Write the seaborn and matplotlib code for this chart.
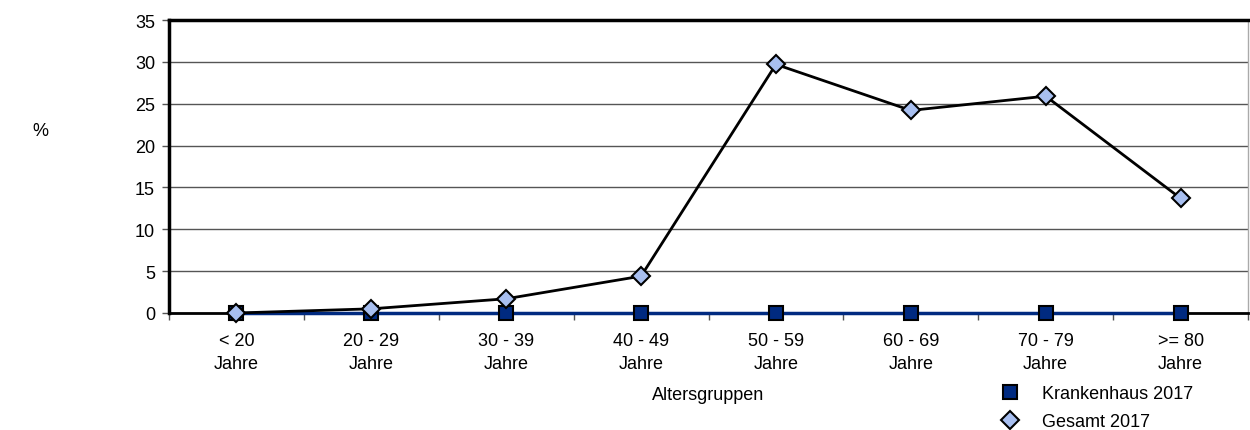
import matplotlib
matplotlib.use("Agg")
import matplotlib.pyplot as plt
from matplotlib.lines import Line2D
import seaborn as sns
import pandas as pd
import numpy as np

categories = ["< 20\nJahre", "20 - 29\nJahre", "30 - 39\nJahre", "40 - 49\nJahre",
              "50 - 59\nJahre", "60 - 69\nJahre", "70 - 79\nJahre", ">= 80\nJahre"]
krankenhaus_2017 = [0, 0, 0, 0, 0, 0, 0, 0]
gesamt_2017 = [0.0, 0.5, 1.7, 4.4, 29.7, 24.2, 25.9, 13.7]
yticks = [0, 5, 10, 15, 20, 25, 30, 35]

sns.set_theme(style="white", rc={"text.color": "black", "xtick.color": "black",
                                 "ytick.color": "black", "axes.labelcolor": "black"})
plt.rcParams['font.family'] = ['Liberation Sans', 'DejaVu Sans']

df = pd.DataFrame({
    "pos": list(range(len(categories))) * 2,
    "wert": krankenhaus_2017 + gesamt_2017,
    "serie": ["Krankenhaus 2017"] * len(categories) + ["Gesamt 2017"] * len(categories),
})

fig = plt.figure(figsize=(12.5, 4.31), dpi=100)
ax = fig.add_axes([169/1250, 1 - 314/431, (1248 - 169)/1250, (314 - 21)/431])

navy = "#002a80"
light = "#a8bff0"
FS = 13

sns.lineplot(data=df[df.serie == "Krankenhaus 2017"], x="pos", y="wert", ax=ax,
             color=navy, lw=2.5, marker="s", markersize=10, markerfacecolor=navy,
             markeredgecolor="black", markeredgewidth=1.5, zorder=4, legend=False,
             clip_on=False)
sns.lineplot(data=df[df.serie == "Gesamt 2017"], x="pos", y="wert", ax=ax,
             color="black", lw=2, marker="D", markersize=9.5, markerfacecolor=light,
             markeredgecolor="black", markeredgewidth=1.5, zorder=5, legend=False,
             clip_on=False)

ax.set_xlim(-0.5, len(categories) - 0.5)
ax.set_ylim(0, 35)
ax.set_yticks(yticks)
ax.set_yticklabels([str(v) for v in yticks], fontsize=FS)
ax.set_xticks(range(len(categories)))
ax.set_xticklabels(categories, fontsize=FS, linespacing=1.4)
ax.set_xticks(np.arange(-0.5, len(categories), 1), minor=True)
ax.tick_params(axis="x", which="major", length=0, pad=14, labelcolor="black")
ax.tick_params(axis="x", which="minor", length=5, width=1, color="#555555", direction="out", bottom=True)
ax.tick_params(axis="y", which="major", length=5, width=1, color="#555555", direction="out",
               left=True, pad=5, labelcolor="black")

ax.grid(axis="y", color="#555555", lw=1)
ax.set_axisbelow(True)
for s in ["top", "left"]:
    ax.spines[s].set_color("black")
    ax.spines[s].set_linewidth(2.5)
ax.spines["right"].set_color("#aaaaaa")
ax.spines["right"].set_linewidth(1)
ax.spines["bottom"].set_color("black")
ax.spines["bottom"].set_linewidth(2)

ax.set_xlabel("Altersgruppen", fontsize=FS, labelpad=10, color="black")
ax.set_ylabel("")
fig.text(40/1250, 1 - 132/431, "%", fontsize=FS, ha="center", va="center", color="black")

handles = [
    Line2D([], [], ls="none", marker="s", markersize=10, markerfacecolor=navy,
           markeredgecolor="black", markeredgewidth=1.5, label="Krankenhaus 2017"),
    Line2D([], [], ls="none", marker="D", markersize=9.5, markerfacecolor=light,
           markeredgecolor="black", markeredgewidth=1.5, label="Gesamt 2017"),
]
fig.legend(handles=handles, loc="upper left", bbox_to_anchor=(990/1250, 1 - 377/431),
           frameon=False, fontsize=FS, handletextpad=1.2, labelspacing=0.6,
           borderpad=0, handlelength=1.2, labelcolor="black")

fig.savefig("out.png", dpi=100)
